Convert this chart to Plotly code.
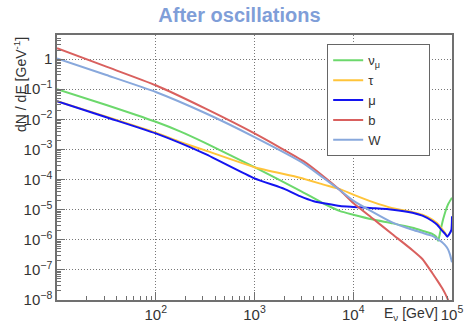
import plotly.graph_objects as go

# ---- data ----
E_numu = [10, 31.6, 100, 176, 316, 1000, 2880, 5010, 7350, 10000, 15850, 25100, 39800, 50100, 63100, 69200, 72400, 75900, 81300, 91200, 100000]
Y_numu = [0.1, 0.03, 8.3e-3, 4.0e-3, 1.66e-3, 2.57e-4, 4.3e-5, 1.6e-5, 8.9e-6, 6.8e-6, 4.7e-6, 3.5e-6, 2.5e-6, 2.0e-6, 1.58e-6, 1.26e-6, 9.3e-7, 1.78e-6, 4.8e-6, 1.5e-5, 2.5e-5]

E_tau = [10, 31.6, 100, 176, 316, 1000, 2880, 5010, 7350, 10000, 15850, 25100, 39800, 50100, 63100, 70800, 79400, 85100, 89100]
Y_tau = [0.04, 0.0123, 3.6e-3, 1.78e-3, 9.3e-4, 2.57e-4, 1.15e-4, 6.8e-5, 4.8e-5, 3.16e-5, 1.78e-5, 1.12e-5, 8.3e-6, 6.8e-6, 4.7e-6, 3.55e-6, 2.24e-6, 1.66e-6, 1.32e-6]

E_mu = [10, 31.6, 100, 316, 1000, 2000, 2880, 3980, 7350, 10000, 15850, 25100, 39800, 50100, 63100, 70800, 79400, 85100, 89500, 94400, 98600, 99800, 100000]
Y_mu = [0.04, 0.0117, 3.4e-3, 7.1e-4, 1.1e-4, 4.9e-5, 2.8e-5, 1.9e-5, 1.32e-5, 1.23e-5, 1.12e-5, 1.0e-5, 7.9e-6, 6.3e-6, 4.2e-6, 3.16e-6, 2.0e-6, 1.58e-6, 1.26e-6, 1.58e-6, 2.14e-6, 4.0e-6, 6.0e-6]

E_b = [10, 31.6, 100, 316, 1000, 3160, 5010, 7350, 10000, 15850, 25100, 39800, 50100, 63100, 70800, 79400, 85100, 91200, 95500]
Y_b = [2.3, 0.56, 0.135, 0.023, 3.4e-3, 4.0e-4, 1.26e-4, 4.4e-5, 1.66e-5, 5.0e-6, 1.5e-6, 4.5e-7, 2.3e-7, 7.9e-8, 4.5e-8, 2.5e-8, 1.66e-8, 1.0e-8, 5e-9]

E_W = [10, 31.6, 100, 316, 1000, 3160, 5010, 7350, 10000, 15850, 25100, 39800, 50100, 63100, 70800, 79400, 85100, 91200, 95500, 100000]
Y_W = [1.05, 0.295, 0.081, 0.0162, 2.57e-3, 3.4e-4, 1.12e-4, 4.4e-5, 2.0e-5, 8.3e-6, 3.7e-6, 2.14e-6, 1.7e-6, 1.35e-6, 1.07e-6, 8.3e-7, 6.6e-7, 4.8e-7, 3.2e-7, 1.78e-7]

names = ["ν<sub>μ</sub>", "τ", "μ", "b", "W"]
colors = ["#6cd86c", "#ffc43a", "#1414f0", "#d9605e", "#88a8dc"]

x_tickvals = [100, 1000, 10000, 100000]
x_ticktext = ["10<sup>2</sup>", "10<sup>3</sup>", "10<sup>4</sup>", "10<sup>5</sup>"]
y_tickvals = [1, 1e-1, 1e-2, 1e-3, 1e-4, 1e-5, 1e-6, 1e-7, 1e-8]
y_ticktext = ["1"] + ["10<sup>−%d</sup>" % k for k in range(1, 9)]

x_minor = [m * 10 ** d for d in range(1, 5) for m in range(2, 10)]
y_minor = [m * 10.0 ** d for d in range(-8, 1) for m in range(2, 10)]

PAD = "\u00a0" * 12

fig = go.Figure()
series = [(E_numu, Y_numu), (E_tau, Y_tau), (E_mu, Y_mu), (E_b, Y_b), (E_W, Y_W)]
for (ex, yy), nm, col in zip(series, names, colors):
    fig.add_trace(go.Scatter(x=ex, y=yy, mode="lines", name=nm + PAD,
                             line=dict(color=col, width=2, shape="spline", smoothing=0.5)))

font_fam = "Liberation Sans, Arial, sans-serif"
axcol = "#707070"
fig.update_layout(
    width=465, height=334,
    margin=dict(l=57, r=13, t=35, b=34, autoexpand=False),
    paper_bgcolor="white", plot_bgcolor="white",
    font=dict(family=font_fam, size=14, color="#333333"),
    title=dict(text="<b>After oscillations</b>", x=0.515, xanchor="center",
               y=0.955, yanchor="middle",
               font=dict(size=20, color="#7f9ed8", family=font_fam)),
    showlegend=True,
    legend=dict(x=0.684, y=0.965, xanchor="left", yanchor="top",
                bgcolor="white", bordercolor="#666666", borderwidth=1,
                font=dict(size=13, color="#333333"), itemwidth=30,
                tracegroupgap=0),
)
fig.update_xaxes(type="log", range=[1, 5], showline=True, linecolor=axcol, linewidth=1.5,
                 mirror=True, ticks="inside", ticklen=8, tickcolor=axcol, automargin=False,
                 tickmode="array", tickvals=x_tickvals, ticktext=x_ticktext,
                 showgrid=True, gridcolor="#777777", griddash="1px,2px", gridwidth=1,
                 minor=dict(tickmode="array", tickvals=x_minor, ticks="inside", ticklen=4,
                            tickcolor=axcol, showgrid=False),
                 zeroline=False, tickfont=dict(size=15, color="#333333"))
fig.update_yaxes(type="log", range=[-8, 0.8], showline=True, linecolor=axcol, linewidth=1.5,
                 mirror=True, ticks="inside", ticklen=8, tickcolor=axcol, automargin=False,
                 tickmode="array", tickvals=y_tickvals, ticktext=y_ticktext,
                 showgrid=True, gridcolor="#777777", griddash="1px,2px", gridwidth=1,
                 minor=dict(tickmode="array", tickvals=y_minor, ticks="inside", ticklen=4,
                            tickcolor=axcol, showgrid=False),
                 zeroline=False, tickfont=dict(size=15, color="#333333"))

fig.add_annotation(text="E<sub>ν</sub> [GeV]", xref="paper", yref="paper",
                   x=0.97, y=-0.012, xanchor="right", yanchor="top", showarrow=False,
                   font=dict(size=14, color="#333333"))
fig.add_annotation(text="dN / dE [GeV<sup>-1</sup>]", xref="paper", yref="paper",
                   x=-0.095, y=1.0, xanchor="center", yanchor="top", textangle=-90,
                   showarrow=False, font=dict(size=14, color="#333333"))

fig.write_html("out.html")
